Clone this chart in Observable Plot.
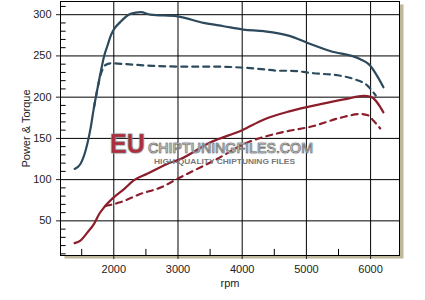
<!DOCTYPE html>
<html><head><meta charset="utf-8">
<script src="https://cdn.jsdelivr.net/npm/d3@7"></script>
<script src="https://cdn.jsdelivr.net/npm/@observablehq/plot@0.6"></script>
<style>
body{margin:0;background:#fff;}
#wrap{position:relative;width:425px;height:300px;}
#wrap svg{position:absolute;left:0;top:0;}
#wm{pointer-events:none;}
</style></head><body><div id="wrap"></div>
<script>
// Tuned torque (solid blue)
const tunedTorqueRpm = [1390,1480,1560,1640,1690,1740,1790,1850,1900,1950,2000,2100,2260,2420,2570,2990,3400,3710,4020,4340,4750,5010,5370,5840,5970,6200];
const tunedTorque    = [113,119,135,163,187,208,228,250,262,274,282,291,301,303,300,298,290,286,282,280,274,266,256,246,240,212];
// Stock torque (dashed blue)
const stockTorqueRpm = [1690,1740,1790,1840,1870,1950,2200,2600,3190,3600,3970,4300,4600,4750,5110,5530,5740,5950,6080];
const stockTorque    = [187,208,226,236,239,241,240,238,237,237,236,234,232,232,229,226,222,214,202];
// Tuned power (solid red)
const tunedPowerRpm = [1390,1480,1590,1690,1770,1850,2000,2160,2310,2520,2830,3040,3500,4000,4340,4750,5220,5630,5890,6000,6200];
const tunedPower    = [23,26,36,46,58,66.5,78.5,88.5,99,107,119,125,145,160,173,183,191.5,198,201.5,200.5,181.5];
// Stock power (dashed red)
const stockPowerRpm = [1870,2100,2410,2730,3040,3560,4080,4600,5110,5530,5840,5960,6050,6150];
const stockPower    = [68,72.5,82.5,90.5,103,123,145,157,165,175,179.5,178,171,162];

const xTicks = [2000,3000,4000,5000,6000];
const yTicks = [50,100,150,200,250,300];
const xMinor = [1500,2500,3500,4500,5500];
const yMinor = [10,20,30,40,60,70,80,90,110,120,130,140,160,170,180,190,210,220,230,240,260,270,280,290,310];

const blue = "#2d4a5d", red = "#8c1d2b";
const X0 = 1170, X1 = 6450, Y0 = 8, Y1 = 316;

const toRows = (xs, ys) => xs.map((x, i) => ({x, y: ys[i]}));
const gridY = yTicks.map(v => ({v}));
const gridX = xTicks.map(v => ({v}));
const minY = yMinor.map(v => ({v, a: X0, b: X0 + 80}));
const minX = xMinor.map(v => ({v, a: Y0, b: Y0 + 8}));

const chart = Plot.plot({
  width: 425, height: 300,
  marginLeft: 60, marginRight: 26, marginTop: 1, marginBottom: 45,
  style: {fontFamily: "'Liberation Sans', Arial, sans-serif", fontSize: "11px", color: "#222", background: "transparent"},
  x: {domain: [X0, X1]},
  y: {domain: [Y0, Y1]},
  marks: [
    Plot.frame({fill: "#bdb79b", stroke: null, dx: 4, dy: 3}),
    Plot.frame({fill: "#ffffff", stroke: null}),
    Plot.ruleY(gridY, {y: "v", stroke: "#000", strokeWidth: 1}),
    Plot.ruleX(gridX, {x: "v", stroke: "#000", strokeWidth: 1}),
    Plot.link(minY, {x1: "a", x2: "b", y1: "v", y2: "v", stroke: "#000"}),
    Plot.link(minX, {x1: "v", x2: "v", y1: "a", y2: "b", stroke: "#000"}),
    Plot.axisY(yTicks, {tickSize: 4, tickPadding: 5, tickFormat: d => String(d), label: "Power & Torque", labelAnchor: "center", labelOffset: 38, labelArrow: "none"}),
    Plot.axisX(xTicks, {tickSize: 4, tickPadding: 6, tickFormat: d => String(d), label: "rpm", labelAnchor: "center", labelOffset: 31, labelArrow: "none"}),
    Plot.line(toRows(stockTorqueRpm, stockTorque), {x: "x", y: "y", stroke: blue, strokeWidth: 2.2, strokeDasharray: "6,5", curve: "monotone-x"}),
    Plot.line(toRows(stockPowerRpm, stockPower), {x: "x", y: "y", stroke: red, strokeWidth: 2.2, strokeDasharray: "6,5", curve: "monotone-x"}),
    Plot.line(toRows(tunedTorqueRpm, tunedTorque), {x: "x", y: "y", stroke: blue, strokeWidth: 2.2, curve: "monotone-x"}),
    Plot.line(toRows(tunedPowerRpm, tunedPower), {x: "x", y: "y", stroke: red, strokeWidth: 2.2, curve: "monotone-x"}),
    Plot.frame({stroke: "#000"})
  ]
});
const wrap = document.getElementById("wrap");
wrap.appendChild(chart);

const ns = "http://www.w3.org/2000/svg";
const wm = document.createElementNS(ns, "svg");
wm.setAttribute("id", "wm"); wm.setAttribute("width", 425); wm.setAttribute("height", 300);
wm.innerHTML = `
<defs><filter id="sh" x="-10%" y="-30%" width="120%" height="160%"><feGaussianBlur stdDeviation="1.2"/></filter></defs>
<g font-family="'Liberation Sans', Arial, sans-serif">
<text x="110" y="153" font-size="28" font-weight="bold" fill="#999" filter="url(#sh)" textLength="35" lengthAdjust="spacingAndGlyphs">EU</text>
<text x="110" y="153" font-size="28" font-weight="bold" fill="#b32a3b" stroke="#7a7a7a" stroke-width="0.6" textLength="35" lengthAdjust="spacingAndGlyphs">EU</text>
<text x="148" y="153" font-size="15" fill="#aaa" filter="url(#sh)" textLength="165" lengthAdjust="spacingAndGlyphs">CHIPTUNINGFILES.COM</text>
<text x="148" y="153" font-size="15" fill="#f4f4f4" stroke="#666" stroke-width="0.7" textLength="165" lengthAdjust="spacingAndGlyphs">CHIPTUNINGFILES.COM</text>
<text x="154" y="164" font-size="8" font-weight="bold" fill="#777" textLength="141" lengthAdjust="spacingAndGlyphs">HIGH-QUALITY CHIPTUNING FILES</text>
</g>`;
wrap.appendChild(wm);
</script></body></html>
